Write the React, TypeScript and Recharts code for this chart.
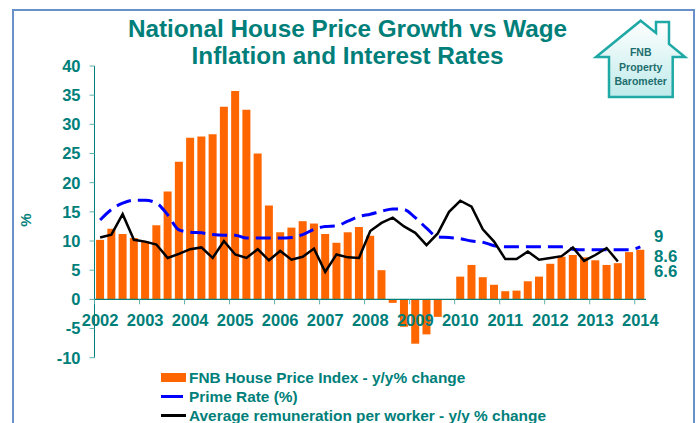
import React from 'react'
import {
  Bar,
  ComposedChart,
  Legend,
  Line,
  ReferenceLine,
  XAxis,
  YAxis,
} from 'recharts'

const TEAL = '#007f7a'
const TICK_TEAL = '#5fb0ac'

const quarters = [
  '2002', '2002b', '2002c', '2002d',
  '2003', '2003b', '2003c', '2003d',
  '2004', '2004b', '2004c', '2004d',
  '2005', '2005b', '2005c', '2005d',
  '2006', '2006b', '2006c', '2006d',
  '2007', '2007b', '2007c', '2007d',
  '2008', '2008b', '2008c', '2008d',
  '2009', '2009b', '2009c', '2009d',
  '2010', '2010b', '2010c', '2010d',
  '2011', '2011b', '2011c', '2011d',
  '2012', '2012b', '2012c', '2012d',
  '2013', '2013b', '2013c', '2013d',
  '2014',
]

const housePrice = [
  10.2, 12.1, 11.2, 10.5, 9.9, 12.7, 18.5, 23.6, 27.7, 27.9, 28.3, 33, 35.7,
  32.5, 25, 16.1, 11.5, 12.3, 13.4, 13, 11.2, 9.7, 11.5, 12.4, 10.9, 5, -0.6,
  -4.7, -7.6, -6, -3, 0, 3.9, 5.9, 3.8, 2.5, 1.4, 1.5, 3.1, 3.9, 6.1, 7.3, 7.6,
  7.2, 6.7, 5.9, 6.2, 8.1, 8.5,
]

const primeRate = [
  13.6, 15.4, 16.5, 17, 17, 16.5, 14.5, 11.9, 11.5, 11.4, 11.1, 11, 11, 10.5,
  10.5, 10.5, 10.5, 10.6, 11.1, 12, 12.5, 12.6, 13.4, 14.2, 14.6, 15.1, 15.5,
  15.4, 14, 12.2, 10.7, 10.6, 10.4, 10, 9.8, 9.2, 9, 9, 9, 9, 9, 9, 8.6, 8.5,
  8.5, 8.5, 8.5, 8.5, 9,
]

const remuneration = [
  10.6, 11.1, 14.6, 10.2, 9.9, 9.4, 7.1, 7.8, 8.6, 8.9, 7.1, 10, 7.7, 7.1, 8.6,
  6.7, 8.3, 6.8, 7.3, 8.7, 4.7, 7.7, 7.2, 7.1, 11.7, 13.1, 14, 12.5, 11.4, 9.3,
  11.3, 15, 16.9, 15.9, 12, 9.9, 6.9, 6.9, 8.2, 6.8, 7.1, 7.4, 8.9, 6.6, 7.6,
  8.8, 6.5, null, null,
]

const yTicks = [-10, -5, 0, 5, 10, 15, 20, 25, 30, 35, 40]
const endLabels = [
  { text: '9', top: 230 },
  { text: '8.6', top: 250 },
  { text: '6.6', top: 265 },
]

const chartData = quarters.map((quarter, i) => ({
  quarter,
  housePrice: housePrice[i],
  primeRate: primeRate[i],
  remuneration: remuneration[i],
}))

// the x axis sits on the zero line, so ticks are pulled up from the plot bottom
const ZERO_OFFSET = 64.4
const HALF_BAND = 5.63

const YearTick = ({ x, y, payload }: any) => (
  <g>
    <line
      x1={x - HALF_BAND}
      x2={x - HALF_BAND}
      y1={y - ZERO_OFFSET}
      y2={y - ZERO_OFFSET + 5}
      stroke={TICK_TEAL}
    />
    <text
      x={x}
      y={y - ZERO_OFFSET + 26.7}
      textAnchor="middle"
      fill={TEAL}
      fontSize={16.5}
      fontWeight={700}
    >
      {payload.value}
    </text>
  </g>
)

const PercentLabel = () => (
  <text
    transform="translate(31 220) rotate(-90)"
    textAnchor="middle"
    fill={TEAL}
    fontSize={15}
    fontWeight={700}
  >
    %
  </text>
)

const ChartLegend = () => (
  <div style={styles.legend}>
    <div style={styles.legendRow}>
      <span style={{ ...styles.swatch, width: 25, marginRight: 3, height: 9, background: '#ff6600' }} />
      FNB House Price Index - y/y% change
    </div>
    <div style={styles.legendRow}>
      <span style={{ ...styles.swatch, width: 22, marginRight: 6, height: 2.5, background: '#0000ff' }} />
      Prime Rate (%)
    </div>
    <div style={styles.legendRow}>
      <span style={{ ...styles.swatch, width: 25, marginRight: 3, height: 2.5, background: '#000' }} />
      Average remuneration per worker - y/y % change
    </div>
  </div>
)

const HouseLogo = () => (
  <svg width={104} height={92} style={styles.logo}>
    <defs>
      <linearGradient id="houseFill" x1="0" y1="0" x2="0" y2="1">
        <stop offset="0%" stopColor="#ffffff" />
        <stop offset="100%" stopColor="#bfeaea" />
      </linearGradient>
    </defs>
    <path
      d="M 50.7 6.7 L 66 19 L 66 8 L 79 8 L 79 30 L 95 43 L 82.7 43 L 82.7 83 L 19 83 L 19 43 L 6 43 Z"
      fill="url(#houseFill)"
      stroke="#1fa9a6"
      strokeWidth={2.5}
    />
    <g fill="#1d6e6e" fontSize={10.5} fontWeight={700} textAnchor="middle">
      <text x={50.7} y={42}>FNB</text>
      <text x={50.7} y={57}>Property</text>
      <text x={50.7} y={70.5}>Barometer</text>
    </g>
  </svg>
)

export default function App() {
  return (
    <div style={styles.page}>
      <div style={styles.frame} />
      <div style={styles.title}>
        National House Price Growth vs Wage
        <br />
        Inflation and Interest Rates
      </div>
      <HouseLogo />
      <ComposedChart
        width={698}
        height={423}
        data={chartData}
        barCategoryGap="14%"
        margin={{ top: 66, right: 52, bottom: 35.3, left: 0 }}
        style={{ position: 'absolute', left: 0, top: 0 }}
      >
        <XAxis
          dataKey="quarter"
          interval={3}
          height={30}
          axisLine={false}
          tickLine={false}
          tickMargin={0}
          tick={<YearTick />}
        />
        <YAxis
          width={94.5}
          domain={[-10, 40]}
          ticks={yTicks}
          interval={0}
          axisLine={{ stroke: TEAL }}
          tickLine={{ stroke: TICK_TEAL }}
          tickSize={5}
          tickMargin={9}
          tick={{ fill: TEAL, fontSize: 16.5, fontWeight: 700 }}
          label={<PercentLabel />}
        />
        <Bar dataKey="housePrice" fill="#ff6600" isAnimationActive={false} />
        <ReferenceLine y={0} stroke={TEAL} strokeWidth={1.2} />
        <Line
          dataKey="primeRate"
          type="monotone"
          stroke="#0000ff"
          strokeWidth={3}
          strokeDasharray="15 7"
          dot={false}
          isAnimationActive={false}
        />
        <Line
          dataKey="remuneration"
          type="linear"
          stroke="#000000"
          strokeWidth={2.5}
          dot={false}
          isAnimationActive={false}
        />
        <Legend content={<ChartLegend />} wrapperStyle={{ left: 0, top: 0, width: 0, height: 0 }} />
      </ComposedChart>
      {endLabels.map((label) => (
        <div key={label.text} style={{ ...styles.endLabel, top: label.top }}>
          {label.text}
        </div>
      ))}
    </div>
  )
}

const styles: Record<string, React.CSSProperties> = {
  page: {
    position: 'absolute',
    left: 0,
    top: 0,
    width: 698,
    height: 423,
    overflow: 'hidden',
    background: '#fff',
    fontFamily: '"Liberation Sans", Arial, sans-serif',
  },
  frame: {
    position: 'absolute',
    left: 12,
    top: 9,
    width: 683,
    height: 430,
    boxSizing: 'border-box',
    border: '2px solid #6a90cc',
  },
  title: {
    position: 'absolute',
    left: 0,
    top: 15,
    width: 695,
    textAlign: 'center',
    color: TEAL,
    fontSize: 24.3,
    lineHeight: '27px',
    fontWeight: 700,
  },
  logo: { position: 'absolute', left: 590, top: 14 },
  legend: {
    position: 'absolute',
    left: 161,
    top: 368,
    width: 450,
    color: TEAL,
    fontSize: 15.4,
    fontWeight: 700,
    lineHeight: '19px',
  },
  legendRow: { display: 'flex', alignItems: 'center', whiteSpace: 'nowrap', height: 19 },
  swatch: { display: 'inline-block' },
  endLabel: {
    position: 'absolute',
    left: 654,
    color: TEAL,
    fontSize: 16.8,
    fontWeight: 700,
    lineHeight: '14px',
  },
}
